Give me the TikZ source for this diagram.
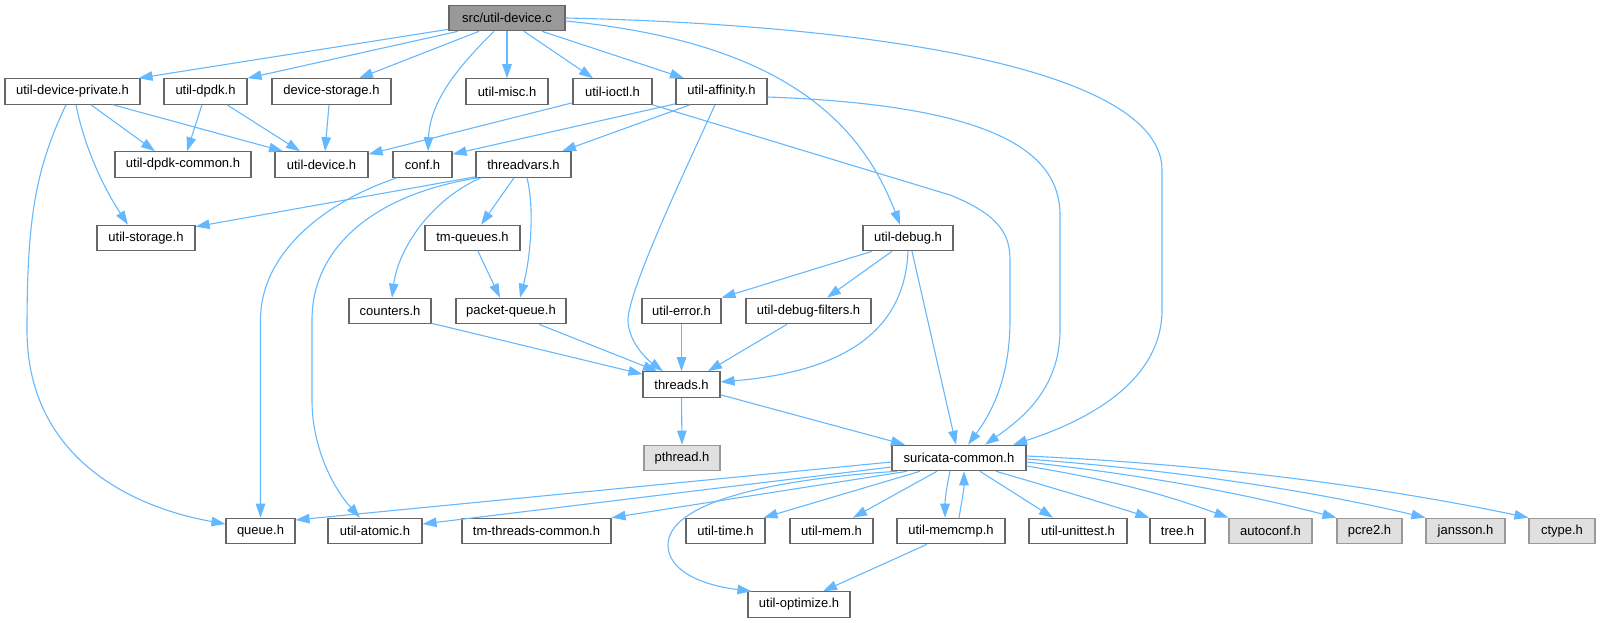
\documentclass[tikz,border=0pt]{standalone}
\usepackage{fontspec}
\setmainfont{Liberation Sans}
\usetikzlibrary{arrows.meta}
\definecolor{edgeblue}{HTML}{63B8FF}
\definecolor{boxgray}{HTML}{666666}
\definecolor{rootgray}{HTML}{999999}
\definecolor{extfill}{HTML}{E0E0E0}
\definecolor{extborder}{HTML}{999999}
\newcommand{\boxfont}{\fontsize{13}{15}\selectfont}
\tikzset{
  box/.style={draw=boxgray, line width=1.1pt, fill=white, inner sep=0pt, minimum height=25.5pt, font=\boxfont, text=black},
  rootbox/.style={box, fill=rootgray},
  extbox/.style={box, fill=extfill, draw=extborder},
  edge/.style={draw=edgeblue, line width=1.1pt, -{Triangle[length=14pt,width=9.5pt]}}
}
\begin{document}
\begin{tikzpicture}[x=1pt,y=-1pt]
\useasboundingbox (0,0) rectangle (1600,623);
% row 0
\node[rootbox, minimum width=116pt] (src) at (507,18) {src/util-device.c};
% row 1
\node[box, minimum width=135pt] (udp) at (72.5,91.5) {util-device-private.h};
\node[box, minimum width=83pt] (dpdk) at (205.5,91.5) {util-dpdk.h};
\node[box, minimum width=119pt] (dstor) at (331.5,91.5) {device-storage.h};
\node[box, minimum width=82pt] (misc) at (507,91.5) {util-misc.h};
\node[box, minimum width=79pt] (ioctl) at (612.5,91.5) {util-ioctl.h};
\node[box, minimum width=91pt] (aff) at (721.5,91.5) {util-affinity.h};
% row 2
\node[box, minimum width=136pt] (dpdkc) at (183,164.5) {util-dpdk-common.h};
\node[box, minimum width=93pt] (udev) at (321.5,164.5) {util-device.h};
\node[box, minimum width=59pt] (conf) at (422.5,164.5) {conf.h};
\node[box, minimum width=95pt] (tv) at (523.5,164.5) {threadvars.h};
% row 3
\node[box, minimum width=98pt] (ustor) at (146,238) {util-storage.h};
\node[box, minimum width=95pt] (tmq) at (472.5,238) {tm-queues.h};
\node[box, minimum width=90pt] (dbg) at (908,238) {util-debug.h};
% row 4
\node[box, minimum width=82pt] (cnt) at (390,311) {counters.h};
\node[box, minimum width=110pt] (pq) at (511,311) {packet-queue.h};
\node[box, minimum width=79pt] (err) at (681.5,311) {util-error.h};
\node[box, minimum width=125pt] (dbgf) at (808.5,311) {util-debug-filters.h};
% row 5
\node[box, minimum width=77pt] (thr) at (681.5,384.5) {threads.h};
% row 6
\node[extbox, minimum width=76pt] (pth) at (682,458) {pthread.h};
\node[box, minimum width=134pt] (sc) at (959,458) {suricata-common.h};
% row 7
\node[box, minimum width=69pt] (queue) at (260.5,531) {queue.h};
\node[box, minimum width=94pt] (atomic) at (375,531) {util-atomic.h};
\node[box, minimum width=149pt] (tmtc) at (536.5,531) {tm-threads-common.h};
\node[box, minimum width=79pt] (time) at (725.5,531) {util-time.h};
\node[box, minimum width=83pt] (mem) at (831.5,531) {util-mem.h};
\node[box, minimum width=108pt] (memcmp) at (951,531) {util-memcmp.h};
\node[box, minimum width=98pt] (unit) at (1078,531) {util-unittest.h};
\node[box, minimum width=55pt] (tree) at (1177.5,531) {tree.h};
\node[extbox, minimum width=83pt] (autoconf) at (1270.5,531) {autoconf.h};
\node[extbox, minimum width=65pt] (pcre) at (1369.5,531) {pcre2.h};
\node[extbox, minimum width=79pt] (jansson) at (1465.5,531) {jansson.h};
\node[extbox, minimum width=66pt] (ctype) at (1562,531) {ctype.h};
% row 8
\node[box, minimum width=102pt] (opt) at (799,604.5) {util-optimize.h};

% edges from src
\draw[edge] ([yshift=2pt]src.south west) -- ([xshift=-2pt]udp.north east);
\draw[edge] ([xshift=-49pt]src.south) -- (dpdk.north east);
\draw[edge] ([xshift=-28pt]src.south) -- ([xshift=27.5pt]dstor.north);
\draw[edge] ([xshift=-13pt]src.south) .. controls (460,65) and (430,100) .. ([xshift=5.5pt]conf.north);
\draw[edge] (src.south) -- (misc.north);
\draw[edge] ([xshift=17pt]src.south) -- ([xshift=-19.5pt]ioctl.north);
\draw[edge] ([xshift=35pt]src.south) -- ([xshift=-37.5pt]aff.north);
\draw[edge] ([yshift=-3pt]src.east) .. controls (780,42) and (860,120) .. ([xshift=-8pt]dbg.north);
\draw[edge] (src.east) .. controls (880,25) and (1162,70) .. (1162,170) -- (1162,310) .. controls (1162,380) and (1090,420) .. ([xshift=54pt]sc.north);
% util-device-private.h
\draw[edge] ([xshift=18.5pt]udp.south) -- ([xshift=-28pt]dpdkc.north);
\draw[edge] ([xshift=40.5pt]udp.south) -- ([xshift=-38.5pt]udev.north);
\draw[edge] ([xshift=3.5pt]udp.south) .. controls (85,150) and (105,190) .. ([xshift=-18pt]ustor.north);
\draw[edge] ([xshift=-6.5pt]udp.south) .. controls (35,170) and (27,220) .. (27,330) .. controls (27,450) and (120,505) .. ([yshift=7pt]queue.west);
% util-dpdk.h, device-storage.h
\draw[edge] ([xshift=-3.5pt]dpdk.south) -- ([xshift=4pt]dpdkc.north);
\draw[edge] ([xshift=21.5pt]dpdk.south) -- ([xshift=-21.5pt]udev.north);
\draw[edge] ([xshift=-2.5pt]dstor.south) -- ([xshift=3.5pt]udev.north);
% util-ioctl.h
\draw[edge] ([yshift=2pt]ioctl.south west) -- ([yshift=-3pt]udev.north east);
\draw[edge] (ioctl.south east) -- (950,195) .. controls (1000,215) and (1010,235) .. (1010,260) -- (1010,320) .. controls (1010,380) and (990,415) .. ([xshift=9pt]sc.north);
% util-affinity.h
\draw[edge] ([yshift=1pt]aff.south west) -- ([yshift=-3pt]conf.north east);
\draw[edge] ([xshift=-31.5pt]aff.south) -- ([xshift=38.5pt]tv.north);
\draw[edge] ([xshift=-6.5pt]aff.south) .. controls (690,160) and (628,290) .. (628,320) .. controls (628,340) and (645,358) .. ([xshift=-18.5pt]thr.north);
\draw[edge] ([yshift=-5.5pt]aff.east) .. controls (990,105) and (1060,150) .. (1060,215) -- (1060,330) .. controls (1060,390) and (1020,420) .. ([xshift=26pt]sc.north);
% conf.h
\draw[edge] ([xshift=-25.5pt]conf.south) .. controls (330,200) and (260.5,250) .. (260.5,320) -- (queue.north);
% threadvars.h
\draw[edge] ([yshift=1pt]tv.south west) -- ([yshift=-2pt]ustor.north east);
\draw[edge] ([xshift=-45.5pt]tv.south) .. controls (370,195) and (312,250) .. (312,320) -- (312,400) .. controls (312,450) and (335,490) .. ([xshift=-15pt]atomic.north);
\draw[edge] ([xshift=-42.5pt]tv.south) .. controls (430,200) and (398,250) .. ([xshift=2pt]cnt.north);
\draw[edge] ([xshift=-9.5pt]tv.south) -- ([xshift=8.5pt]tmq.north);
\draw[edge] ([xshift=3.5pt]tv.south) .. controls (535,210) and (530,260) .. ([xshift=9pt]pq.north);
\draw[edge] ([xshift=5.5pt]tmq.south) -- ([xshift=-11pt]pq.north);
% counters, packet-queue
\draw[edge] ([yshift=1pt]cnt.south east) -- ([yshift=-3pt]thr.north west);
\draw[edge] ([xshift=28pt]pq.south) -- ([xshift=-24.5pt]thr.north);
% util-debug.h
\draw[edge] ([xshift=-36pt]dbg.south) -- (err.north east);
\draw[edge] ([xshift=-16pt]dbg.south) -- ([xshift=18.5pt]dbgf.north);
\draw[edge] (dbg.south) .. controls (905,320) and (860,370) .. ([yshift=2.5pt]thr.east);
\draw[edge] ([xshift=4pt]dbg.south) -- ([xshift=-3pt]sc.north);
\draw[edge] (err.south) -- (thr.north);
\draw[edge] ([xshift=-21.5pt]dbgf.south) -- ([xshift=26.5pt]thr.north);
% threads.h
\draw[edge] (thr.south) -- (pth.north);
\draw[edge] ([yshift=3pt]thr.south east) -- ([xshift=-54pt]sc.north);
% suricata-common.h
\draw[edge] ([yshift=-4pt]sc.west) -- ([yshift=11pt]queue.east);
\draw[edge] ([yshift=-9pt]sc.west) -- ([yshift=7pt]atomic.east);
\draw[edge] ([xshift=-52pt]sc.south) -- (tmtc.north east);
\draw[edge] ([xshift=-62pt]sc.south) .. controls (760,480) and (668,505) .. (668,545) .. controls (668,570) and (700,585) .. ([xshift=4pt]opt.north west);
\draw[edge] ([xshift=-39pt]sc.south) -- ([xshift=-2pt]time.north east);
\draw[edge] ([xshift=-22pt]sc.south) -- ([xshift=21.5pt]mem.north);
\draw[edge] ([xshift=-9pt]sc.south) .. controls (946,490) and (945,500) .. ([xshift=-6pt]memcmp.north);
\draw[edge] ([xshift=8pt]memcmp.north) .. controls (962,500) and (964,490) .. ([xshift=5pt]sc.south);
\draw[edge] ([xshift=-24pt]memcmp.south) -- ([xshift=24pt]opt.north);
\draw[edge] ([xshift=21pt]sc.south) -- ([xshift=-25pt]unit.north);
\draw[edge] ([xshift=37pt]sc.south) .. controls (1060,490) and (1110,505) .. (tree.north west);
\draw[edge] ([yshift=-8pt]sc.east) .. controls (1130,483) and (1180,500) .. (autoconf.north west);
\draw[edge] ([yshift=-4pt]sc.east) .. controls (1170,478) and (1260,498) .. (pcre.north west);
\draw[edge] ([yshift=-1pt]sc.east) .. controls (1200,472) and (1330,495) .. (jansson.north west);
\draw[edge] ([yshift=2pt]sc.east) .. controls (1250,466) and (1420,495) .. (ctype.north west);
\end{tikzpicture}
\end{document}
